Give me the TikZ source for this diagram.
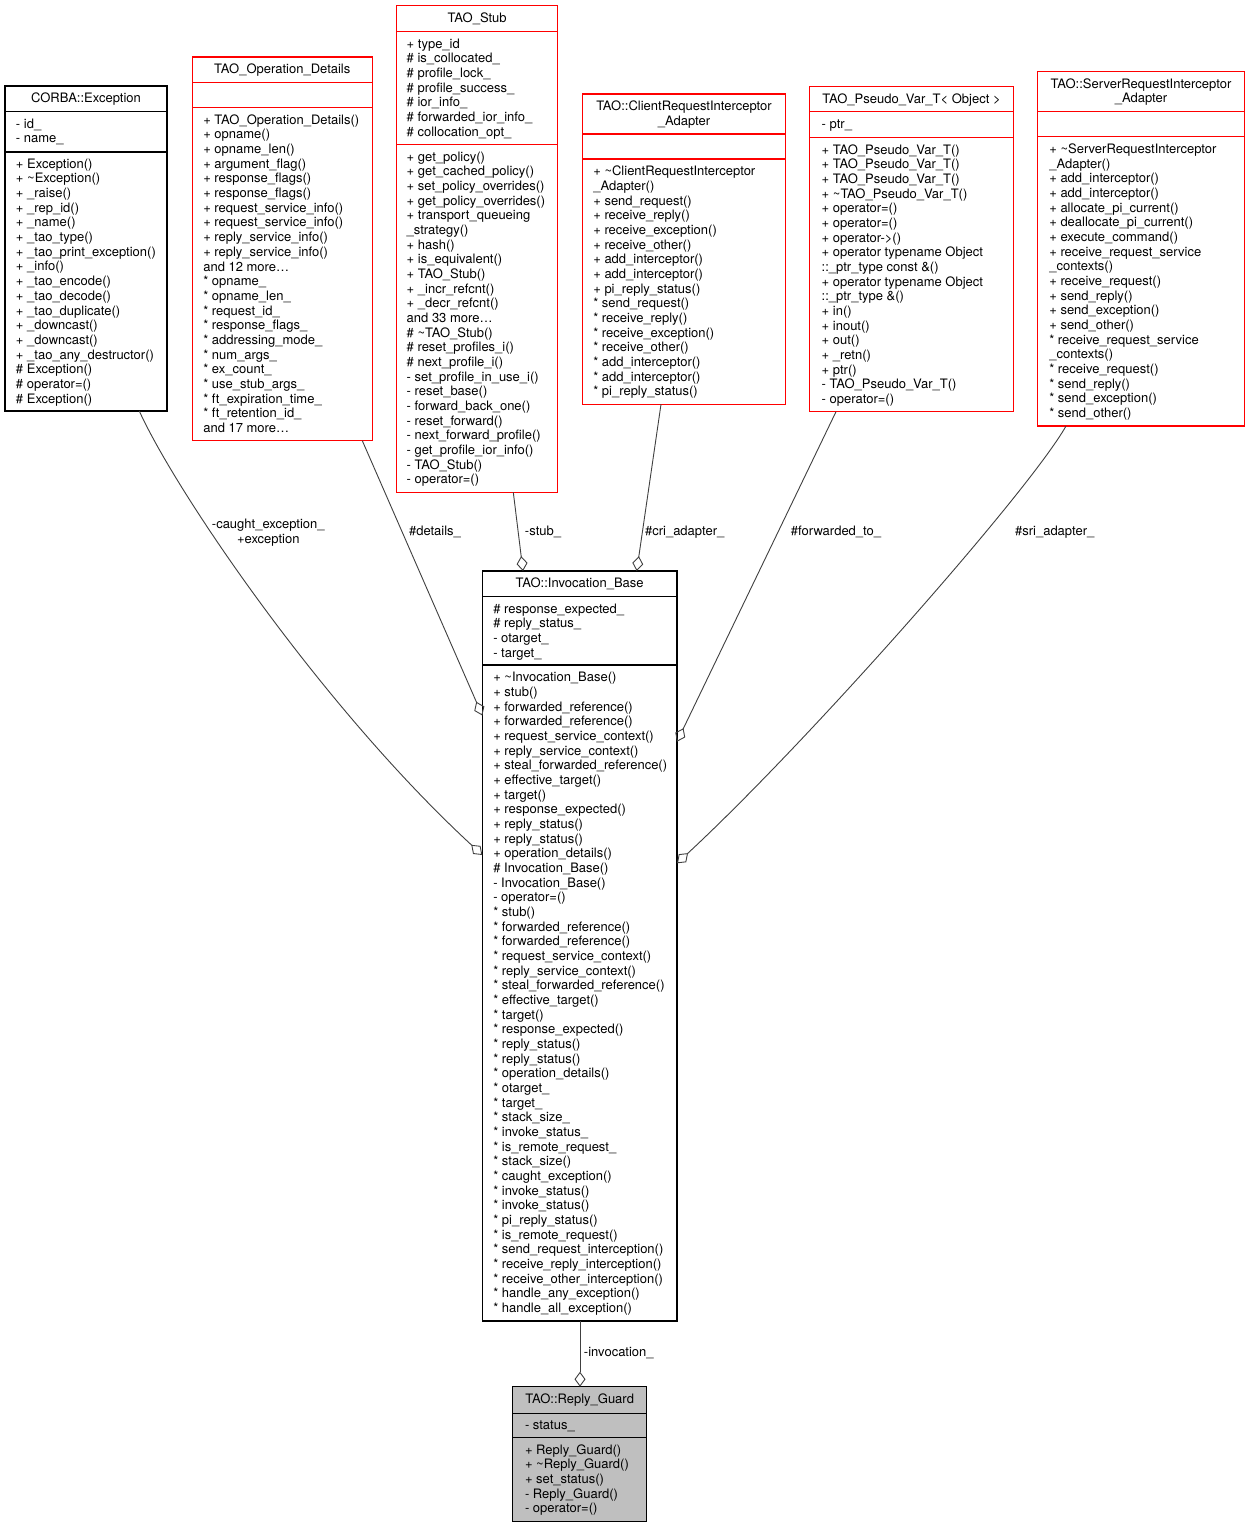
\documentclass[tikz,border=0pt]{standalone}
\usepackage{fontspec}
\setmainfont{TeX Gyre Heros}
\usetikzlibrary{arrows.meta}
\definecolor{edgegray}{HTML}{404040}
\definecolor{boxred}{HTML}{FF0000}
\definecolor{guardgray}{HTML}{BFBFBF}
\tikzset{
  classframe/.style={draw, line width=1.3pt, inner sep=0pt, outer sep=0pt, rectangle, anchor=north west},
  seprule/.style={line width=1.3pt},
  txt/.style={font=\fontsize{13}{14.67}\selectfont, inner sep=0pt, outer sep=0pt},
  clstitle/.style={txt, align=center, anchor=north},
  clsmembers/.style={txt, align=left, anchor=north west},
  agg/.style={draw=edgegray, line width=0.9pt, -{Diamond[open, length=15pt, width=11pt]}},
  elabel/.style={txt, anchor=north, align=center},
}
% box: name, L, T, R, B, sep1, sep2, colour, fill
\newcommand\ClassBox[9]{%
  \pgfmathsetmacro\cbw{#4-#2}\pgfmathsetmacro\cbh{#5-#3}%
  \node[classframe, draw=#8, fill=#9, minimum width=\cbw pt, minimum height=\cbh pt] (#1) at (#2,#3) {};
  \draw[seprule, draw=#8] (#2,#6) -- (#4,#6) (#2,#7) -- (#4,#7);
}
% text block whose first baseline is at y = #3
\newcommand\Members[4]{\node[clsmembers] (#1) at (#2,#3-10.27) {\strut #4};}
\newcommand\Title[4]{\node[clstitle] (#1) at (#2,#3-10.27) {\strut #4};}
\newcommand\ELabel[4]{\node[elabel] (#1) at (#2,#3-10.27) {\strut #4};}
\begin{document}
\begin{tikzpicture}[x=1pt, y=-1pt]
\useasboundingbox (0,0) rectangle (1249,1528);
\fill[white] (0,0) rectangle (1249,1528);

% ---------- CORBA::Exception
\ClassBox{exc}{5}{86}{167}{411}{111.5}{152}{black}{white}
\Title{exc-t}{86}{102.5}{CORBA::Exception}
\Members{exc-a}{16}{128.1}{- id\_\\- name\_}
\Members{exc-m}{16}{168.3}{+ Exception()\\
+ \textasciitilde Exception()\\
+ \_raise()\\
+ \_rep\_id()\\
+ \_name()\\
+ \_tao\_type()\\
+ \_tao\_print\_exception()\\
+ \_info()\\
+ \_tao\_encode()\\
+ \_tao\_decode()\\
+ \_tao\_duplicate()\\
+ \_downcast()\\
+ \_downcast()\\
+ \_tao\_any\_destructor()\\
\# Exception()\\
\# operator=()\\
\# Exception()}

% ---------- TAO_Operation_Details
\ClassBox{opd}{192.3}{57}{372.3}{440.7}{82.3}{107.5}{boxred}{white}
\Title{opd-t}{282.3}{73.5}{TAO\_Operation\_Details}
\Members{opd-m}{203.3}{124.3}{+ TAO\_Operation\_Details()\\
+ opname()\\
+ opname\_len()\\
+ argument\_flag()\\
+ response\_flags()\\
+ response\_flags()\\
+ request\_service\_info()\\
+ request\_service\_info()\\
+ reply\_service\_info()\\
+ reply\_service\_info()\\
and 12 more\dots\\
* opname\_\\
* opname\_len\_\\
* request\_id\_\\
* response\_flags\_\\
* addressing\_mode\_\\
* num\_args\_\\
* ex\_count\_\\
* use\_stub\_args\_\\
* ft\_expiration\_time\_\\
* ft\_retention\_id\_\\
and 17 more\dots}

% ---------- TAO_Stub
\ClassBox{stub}{396.7}{5.7}{557.7}{492.3}{31.7}{144.3}{boxred}{white}
\Title{stub-t}{477.2}{22.2}{TAO\_Stub}
\Members{stub-a}{406.7}{48.3}{+ type\_id\\
\# is\_collocated\_\\
\# profile\_lock\_\\
\# profile\_success\_\\
\# ior\_info\_\\
\# forwarded\_ior\_info\_\\
\# collocation\_opt\_}
\Members{stub-m}{406.7}{161.1}{+ get\_policy()\\
+ get\_cached\_policy()\\
+ set\_policy\_overrides()\\
+ get\_policy\_overrides()\\
+ transport\_queueing\\
\_strategy()\\
+ hash()\\
+ is\_equivalent()\\
+ TAO\_Stub()\\
+ \_incr\_refcnt()\\
+ \_decr\_refcnt()\\
and 33 more\dots\\
\# \textasciitilde TAO\_Stub()\\
\# reset\_profiles\_i()\\
\# next\_profile\_i()\\
- set\_profile\_in\_use\_i()\\
- reset\_base()\\
- forward\_back\_one()\\
- reset\_forward()\\
- next\_forward\_profile()\\
- get\_profile\_ior\_info()\\
- TAO\_Stub()\\
- operator=()}

% ---------- TAO::ClientRequestInterceptor_Adapter
\ClassBox{cri}{582.3}{94}{785.7}{404.3}{134}{159}{boxred}{white}
\Title{cri-t}{684}{110.5}{TAO::ClientRequestInterceptor\\\_Adapter}
\Members{cri-m}{593.3}{175.8}{+ \textasciitilde ClientRequestInterceptor\\
\_Adapter()\\
+ send\_request()\\
+ receive\_reply()\\
+ receive\_exception()\\
+ receive\_other()\\
+ add\_interceptor()\\
+ add\_interceptor()\\
+ pi\_reply\_status()\\
* send\_request()\\
* receive\_reply()\\
* receive\_exception()\\
* receive\_other()\\
* add\_interceptor()\\
* add\_interceptor()\\
* pi\_reply\_status()}

% ---------- TAO_Pseudo_Var_T< Object >
\ClassBox{pvt}{809.3}{86.7}{1013.7}{411.7}{111.7}{137.3}{boxred}{white}
\Title{pvt-t}{911.5}{103.2}{TAO\_Pseudo\_Var\_T< Object >}
\Members{pvt-a}{821.7}{128.3}{- ptr\_}
\Members{pvt-m}{821.7}{154.1}{+ TAO\_Pseudo\_Var\_T()\\
+ TAO\_Pseudo\_Var\_T()\\
+ TAO\_Pseudo\_Var\_T()\\
+ \textasciitilde TAO\_Pseudo\_Var\_T()\\
+ operator=()\\
+ operator=()\\
+ operator->()\\
+ operator typename Object\\
::\_ptr\_type const \&()\\
+ operator typename Object\\
::\_ptr\_type \&()\\
+ in()\\
+ inout()\\
+ out()\\
+ \_retn()\\
+ ptr()\\
- TAO\_Pseudo\_Var\_T()\\
- operator=()}

% ---------- TAO::ServerRequestInterceptor_Adapter
\ClassBox{sri}{1037.7}{71.7}{1244.3}{426}{111.7}{136.7}{boxred}{white}
\Title{sri-t}{1141}{88.2}{TAO::ServerRequestInterceptor\\\_Adapter}
\Members{sri-m}{1049.3}{153.5}{+ \textasciitilde ServerRequestInterceptor\\
\_Adapter()\\
+ add\_interceptor()\\
+ add\_interceptor()\\
+ allocate\_pi\_current()\\
+ deallocate\_pi\_current()\\
+ execute\_command()\\
+ receive\_request\_service\\
\_contexts()\\
+ receive\_request()\\
+ send\_reply()\\
+ send\_exception()\\
+ send\_other()\\
* receive\_request\_service\\
\_contexts()\\
* receive\_request()\\
* send\_reply()\\
* send\_exception()\\
* send\_other()}

% ---------- TAO::Invocation_Base
\ClassBox{inv}{482.3}{571}{677}{1321}{596.7}{665}{black}{white}
\Title{inv-t}{579.65}{587.5}{TAO::Invocation\_Base}
\Members{inv-a}{493.3}{613.3}{\# response\_expected\_\\
\# reply\_status\_\\
- otarget\_\\
- target\_}
\Members{inv-m}{493.3}{681.8}{+ \textasciitilde Invocation\_Base()\\
+ stub()\\
+ forwarded\_reference()\\
+ forwarded\_reference()\\
+ request\_service\_context()\\
+ reply\_service\_context()\\
+ steal\_forwarded\_reference()\\
+ effective\_target()\\
+ target()\\
+ response\_expected()\\
+ reply\_status()\\
+ reply\_status()\\
+ operation\_details()\\
\# Invocation\_Base()\\
- Invocation\_Base()\\
- operator=()\\
* stub()\\
* forwarded\_reference()\\
* forwarded\_reference()\\
* request\_service\_context()\\
* reply\_service\_context()\\
* steal\_forwarded\_reference()\\
* effective\_target()\\
* target()\\
* response\_expected()\\
* reply\_status()\\
* reply\_status()\\
* operation\_details()\\
* otarget\_\\
* target\_\\
* stack\_size\_\\
* invoke\_status\_\\
* is\_remote\_request\_\\
* stack\_size()\\
* caught\_exception()\\
* invoke\_status()\\
* invoke\_status()\\
* pi\_reply\_status()\\
* is\_remote\_request()\\
* send\_request\_interception()\\
* receive\_reply\_interception()\\
* receive\_other\_interception()\\
* handle\_any\_exception()\\
* handle\_all\_exception()}

% ---------- TAO::Reply_Guard
\ClassBox{rg}{512.7}{1386.7}{646.7}{1521.7}{1413.3}{1437.3}{black}{guardgray}
\Title{rg-t}{579.7}{1403.2}{TAO::Reply\_Guard}
\Members{rg-a}{525}{1429.9}{- status\_}
\Members{rg-m}{525}{1454.1}{+ Reply\_Guard()\\
+ \textasciitilde Reply\_Guard()\\
+ set\_status()\\
- Reply\_Guard()\\
- operator=()}

% ---------- connectors
\draw[agg] ([xshift=134.3pt]exc.south west) .. controls (175,490) and (320,705) .. ([yshift=-284pt]inv.north west);
\draw[agg] ([xshift=170pt]opd.south west) -- ([yshift=-144.5pt]inv.north west);
\draw[agg] ([xshift=116.6pt]stub.south west) -- ([xshift=40.7pt]inv.north west);
\draw[agg] ([xshift=78.7pt]cri.south west) -- ([xshift=154.4pt]inv.north west);
\draw[agg] ([xshift=26.7pt]pvt.south west) -- ([yshift=-170.7pt]inv.north east);
\draw[agg] ([xshift=28.3pt]sri.south west) .. controls (1030,490) and (810,740) .. ([yshift=-292.3pt]inv.north east);
\draw[agg] ([xshift=97.7pt]inv.south west) -- ([xshift=67.3pt]rg.north west);

% ---------- connector labels
\ELabel{l-exc}{268.3}{528.7}{-caught\_exception\_\\+exception}
\ELabel{l-opd}{435}{535.5}{\#details\_}
\ELabel{l-stub}{543}{535.5}{-stub\_}
\ELabel{l-cri}{684.7}{535.5}{\#cri\_adapter\_}
\ELabel{l-pvt}{836}{535.5}{\#forwarded\_to\_}
\ELabel{l-sri}{1054.7}{535.5}{\#sri\_adapter\_}
\ELabel{l-rg}{618.8}{1356.7}{-invocation\_}
\end{tikzpicture}
\end{document}
